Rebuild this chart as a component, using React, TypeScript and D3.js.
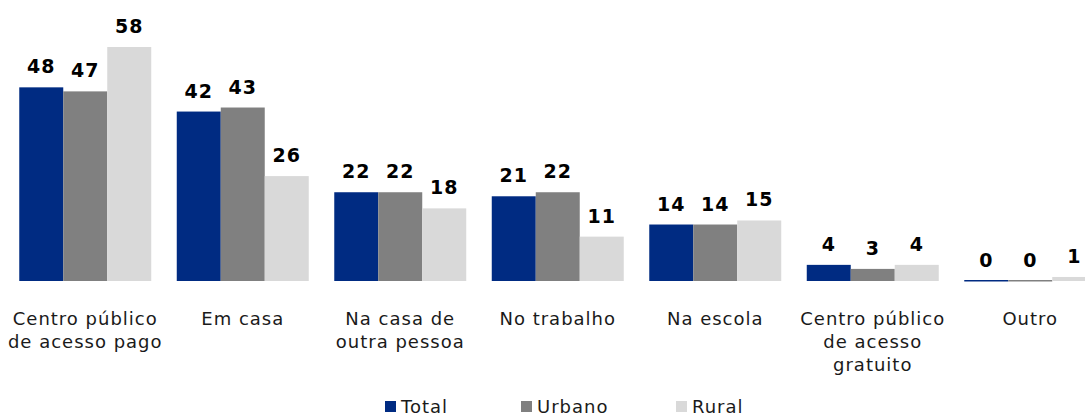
import React, { useRef, useEffect } from 'react';
import * as d3 from 'd3';

// categorias (eixo x), quebradas em linhas
const categories = [
  ['Centro público', 'de acesso pago'],
  ['Em casa'],
  ['Na casa de', 'outra pessoa'],
  ['No trabalho'],
  ['Na escola'],
  ['Centro público', 'de acesso', 'gratuito'],
  ['Outro'],
];
const seriesNames = ['Total', 'Urbano', 'Rural'];
const totalValues = [48, 42, 22, 21, 14, 4, 0];
const urbanoValues = [47, 43, 22, 22, 14, 3, 0];
const ruralValues = [58, 26, 18, 11, 15, 4, 1];
const colors = ['#002b82', '#808080', '#d9d9d9'];

const W = 1085;
const H = 418;

const App = () => {
  const ref = useRef<SVGSVGElement>(null);

  useEffect(() => {
    const svg = d3.select(ref.current);
    svg.selectAll('*').remove();
    const font = '"DejaVu Sans", Verdana, sans-serif';

    const series = [totalValues, urbanoValues, ruralValues];
    const idx = categories.map((_, i) => i);

    // passo de 157.5px por grupo, o último grupo fica cortado à direita
    const x0 = d3.scaleBand<number>()
      .domain(idx)
      .range([6.5, 6.5 + 157.5 * categories.length])
      .paddingInner(0.162)
      .paddingOuter(0.081);
    const x1 = d3.scaleBand<number>()
      .domain([0, 1, 2])
      .range([0, x0.bandwidth()]);
    const y = d3.scaleLinear().domain([0, 58]).range([281, 47]);

    const g = svg.append('g');

    series.forEach((vals, s) => {
      g.selectAll(`.bar-${s}`)
        .data(vals)
        .enter()
        .append('rect')
        .attr('x', (_, i) => x0(i)! + x1(s)!)
        .attr('y', d => y(d) - (d === 0 ? 1 : 0))
        .attr('width', x1.bandwidth())
        .attr('height', d => Math.max(1.5, y(0) - y(d)))
        .attr('fill', colors[s]);

      g.selectAll(`.lbl-${s}`)
        .data(vals)
        .enter()
        .append('text')
        .attr('x', (_, i) => x0(i)! + x1(s)! + x1.bandwidth() / 2)
        .attr('y', d => y(d) - 14)
        .attr('text-anchor', 'middle')
        .style('font-family', font)
        .style('font-weight', 'bold')
        .style('font-size', '19px')
        .style('letter-spacing', '1px')
        .attr('fill', '#000')
        .text(d => d);
    });

    // rótulos das categorias
    categories.forEach((lines, i) => {
      const t = g.append('text')
        .attr('text-anchor', 'middle')
        .style('font-family', font)
        .style('font-size', '18px')
        .style('letter-spacing', '1px')
        .attr('fill', '#1a1a1a');
      lines.forEach((ln, k) => {
        t.append('tspan')
          .attr('x', x0(i)! + x0.bandwidth() / 2)
          .attr('y', 325 + k * 23)
          .text(ln);
      });
    });

    // legenda
    const legendX = [385, 521, 676];
    seriesNames.forEach((name, s) => {
      g.append('rect')
        .attr('x', legendX[s])
        .attr('y', 401)
        .attr('width', 11)
        .attr('height', 11)
        .attr('fill', colors[s]);
      g.append('text')
        .attr('x', legendX[s] + 16)
        .attr('y', 413)
        .style('font-family', font)
        .style('font-size', '18px')
        .style('letter-spacing', '1px')
        .attr('fill', '#1a1a1a')
        .text(name);
    });
  }, []);

  return (
    <svg
      ref={ref}
      width={W}
      height={H}
      style={{ position: 'absolute', left: 0, top: 0, background: '#fff' }}
    />
  );
};

export default App;
